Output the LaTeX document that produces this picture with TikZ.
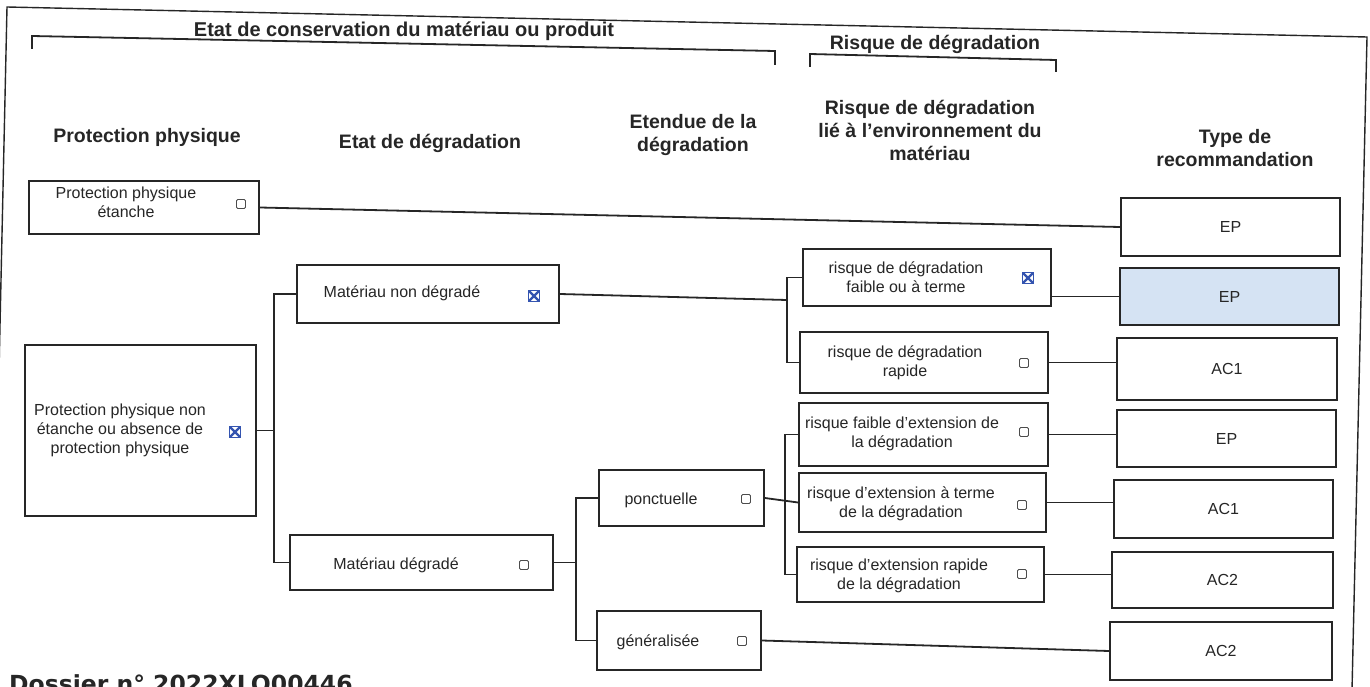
\documentclass[tikz,border=0pt]{standalone}
\usepackage{fontspec}
\setmainfont{Liberation Sans}
\newfontfamily\dossierfont{DejaVu Sans}
\usepackage{tikz}
\usepackage{xcolor}
\definecolor{boxblue}{RGB}{213,227,243}
\definecolor{tickblue}{RGB}{52,84,176}

\begin{document}
\begin{tikzpicture}[
  x=1pt, y=-1pt,
  box/.style={draw=black!85, line width=1.8pt, inner sep=0pt, font=\fontsize{16}{19}\selectfont, text=black!85},
  lbl/.style={font=\fontsize{16}{19}\selectfont, align=center, text=black!85, inner sep=0pt},
  head/.style={font=\bfseries\fontsize{19.5}{23}\selectfont, align=center, text=black!85, inner sep=0pt},
  chk/.style={draw=black!70, line width=0.9pt, minimum size=9pt, inner sep=0pt, rounded corners=1.2pt},
  chkx/.style={draw=tickblue, line width=1pt, minimum size=11pt, inner sep=0pt,
    path picture={\draw[tickblue, line width=2.4pt]
      (path picture bounding box.north west) -- (path picture bounding box.south east)
      (path picture bounding box.north east) -- (path picture bounding box.south west);}},
  edge/.style={line width=1.8pt, draw=black!85}
  ]

  \useasboundingbox (0,0) rectangle (1370,687);
  \fill[white] (0,0) rectangle (1370,687);
  \clip (0,0) rectangle (1370,687);

  \draw[line width=1.4pt, black!85] (-8,690) -- (7,7) -- (1367,37) -- (1352,690);

  \node[head, font=\bfseries\fontsize{20}{24}\selectfont] (hcons) at (404,31) {Etat de conservation du matériau ou produit};
  \node[head] (hrisk) at (935,44) {Risque de dégradation};
  \draw[edge] (32,49) -- (32,36) -- (775,51) -- (775,65);
  \draw[edge] (810,67) -- (810,54) -- (1056,60) -- (1056,72);

  \node[head] (hprot)  at (147,137)   {Protection physique};
  \node[head] (hetat)  at (430,143)   {Etat de dégradation};
  \node[head] (hetend) at (693,135.5) {Etendue de la\\dégradation};
  \node[head] (hrenv)  at (930,130)   {Risque de dégradation\\lié à l'environnement du\\matériau};
  \node[head] (htype)  at (1235,148)  {Type de\\recommandation};

  \begin{scope}
    \node[box, minimum width=230, minimum height=53]  (p1) at (144,207.5) {};
    \node[lbl] (p1l) at (126,202.5) {Protection physique\\étanche};
    \node[chk] (p1c) at (241,204) {};

    \node[box, minimum width=231, minimum height=171] (p2) at (140.5,430.5) {};
    \node[lbl] (p2l) at (120,430) {Protection physique non\\étanche ou absence de\\protection physique};
    \node[chkx] (p2c) at (235,432) {};
  \end{scope}

  \begin{scope}
    \node[box, minimum width=262, minimum height=58] (m1) at (428,294) {};
    \node[lbl] (m1l) at (402,293) {Matériau non dégradé};
    \node[chkx] (m1c) at (534,296) {};

    \node[box, minimum width=263, minimum height=55] (m2) at (421.5,562.5) {};
    \node[lbl] (m2l) at (396,565) {Matériau dégradé};
    \node[chk] (m2c) at (524,565) {};

    \node[box, minimum width=165, minimum height=56] (pon) at (681.5,498) {};
    \node[lbl] (ponl) at (661,500) {ponctuelle};
    \node[chk] (ponc) at (746,499) {};

    \node[box, minimum width=164, minimum height=59] (gen) at (679,640.5) {};
    \node[lbl] (genl) at (658,642) {généralisée};
    \node[chk] (genc) at (742,641) {};
  \end{scope}

  \begin{scope}
    \node[box, minimum width=248, minimum height=57] (r1) at (927,277.5) {};
    \node[lbl] (r1l) at (906,277) {risque de dégradation\\faible ou à terme};
    \node[chkx] (r1c) at (1028,278) {};

    \node[box, minimum width=248, minimum height=61] (r2) at (924,362.5) {};
    \node[lbl] (r2l) at (905,363) {risque de dégradation\\rapide};
    \node[chk] (r2c) at (1024,363) {};

    \node[box, minimum width=249, minimum height=63] (r3) at (923.5,434.5) {};
    \node[lbl] (r3l) at (902,433.5) {risque faible d'extension de\\la dégradation};
    \node[chk] (r3c) at (1024,432) {};

    \node[box, minimum width=247, minimum height=59] (r4) at (922.5,502.5) {};
    \node[lbl] (r4l) at (901,504) {risque d'extension à terme\\de la dégradation};
    \node[chk] (r4c) at (1022,505) {};

    \node[box, minimum width=247, minimum height=55] (r5) at (920.5,574.5) {};
    \node[lbl] (r5l) at (899,576) {risque d'extension rapide\\de la dégradation};
    \node[chk] (r5c) at (1022,574) {};
  \end{scope}

  \begin{scope}
    \node[box, minimum width=219, minimum height=58] (ep1) at (1230.5,227) {EP};
    \node[box, minimum width=219, minimum height=57, fill=boxblue] (ep2) at (1229.5,296.5) {EP};
    \node[box, minimum width=220, minimum height=62] (ac1a) at (1227,369) {AC1};
    \node[box, minimum width=219, minimum height=57] (ep3) at (1226.5,438.5) {EP};
    \node[box, minimum width=219, minimum height=58] (ac1b) at (1223.5,509) {AC1};
    \node[box, minimum width=221, minimum height=56] (ac2a) at (1222.5,580) {AC2};
    \node[box, minimum width=222, minimum height=58] (ac2b) at (1221,651) {AC2};
  \end{scope}

  \coordinate (t1) at (274,0);
  \coordinate (t2) at (576,0);
  \coordinate (t3) at (787,300);
  \coordinate (t4) at (785,0);

  \draw[edge] (p1.east) -- (ep1.west);
  \draw[edge] (p2.east) -- (p2.east -| t1);
  \draw[edge] (m1.west) -- (m1.west -| t1) |- (m2.west);
  \draw[edge] (m2.east) -- (m2.east -| t2);
  \draw[edge] (pon.west) -- (pon.west -| t2) |- (gen.west);
  \draw[edge] (m1.east) -- (t3);
  \draw[edge] (r1.west) -- (r1.west -| t3) |- (r2.west);
  \draw[edge] (pon.east) -- (r4.west);
  \draw[edge] (r3.west) -- (r3.west -| t4) |- (r5.west);
  \draw[edge] (ep2.west -| r1.east) -- (ep2.west);
  \draw[edge] (r2.east) -- (r2.east -| ac1a.west);
  \draw[edge] (r3.east) -- (r3.east -| ep3.west);
  \draw[edge] (r4.east) -- (r4.east -| ac1b.west);
  \draw[edge] (r5.east) -- (r5.east -| ac2a.west);
  \draw[edge] (gen.east) -- (ac2b.west);

  \node[anchor=base west, inner sep=0pt, text=black!85,
        font=\dossierfont\bfseries\fontsize{23.5}{28}\selectfont] (dossier) at (9,692) {Dossier n° 2022XLO00446};
\end{tikzpicture}
\end{document}
